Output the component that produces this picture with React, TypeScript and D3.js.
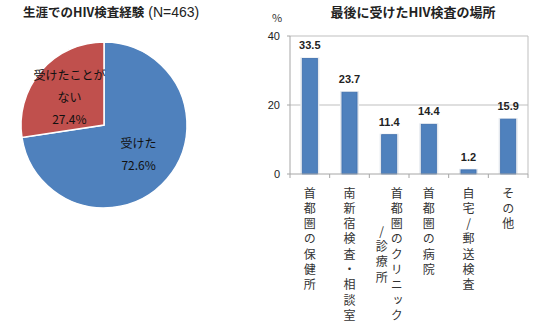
import React from 'react';
import * as d3 from 'd3';

const width = 550;
const height = 336;

const pieLabels = ['受けた', '受けたことが\nない'];
const pieValues = [72.6, 27.4];
const pieColors = ['#4F81BD', '#C0504D'];

const places = [
    '首都圏の保健所',
    '南新宿検査・相談室',
    '首都圏のクリニック\n/診療所',
    '首都圏の病院',
    '自宅/郵送検査',
    'その他',
];
const placeValues = [33.5, 23.7, 11.4, 14.4, 1.2, 15.9];
const yTicks = [0, 20, 40];

const jp = '"Noto Sans CJK JP", "Noto Sans", sans-serif';
const num = '"Liberation Sans", Arial, sans-serif';

const PieChart = () => {
    const cx = 104;
    const cy = 125;
    const r = 83;
    const arcs = d3.pie<number>().sort(null)(pieValues);
    const arc = d3.arc<d3.PieArcDatum<number>>().innerRadius(0).outerRadius(r);
    const labelArc = d3.arc<d3.PieArcDatum<number>>().innerRadius(r * 0.55).outerRadius(r * 0.55);
    return (
        <g>
            <text x={23} y={17} fill="#222">
                <tspan fontFamily={jp} fontSize={12.5} fontWeight={700}>生涯でのHIV検査経験</tspan>
                <tspan fontFamily={num} fontSize={14}> (N=463)</tspan>
            </text>
            <g transform={`translate(${cx},${cy})`}>
                {arcs.map((a, i) => (
                    <path key={i} d={arc(a) || ''} fill={pieColors[i]} stroke="#fff" strokeWidth={1.5} />
                ))}
                {arcs.map((a, i) => {
                    const [lx, ly] = labelArc.centroid(a);
                    const lines = [...pieLabels[i].split('\n'), d3.format('.1f')(pieValues[i]) + '%'];
                    const step = 22;
                    const y0 = ly - ((lines.length - 1) * step) / 2 + (lines.length > 2 ? 3 : 0);
                    return (
                        <text key={i} textAnchor="middle" fontFamily={jp} fontSize={12} fill="#111">
                            {lines.map((l, j) => (
                                <tspan key={j} x={lx} y={y0 + j * step} dy="0.35em">{l}</tspan>
                            ))}
                        </text>
                    );
                })}
            </g>
        </g>
    );
};

const BarChart = () => {
    const left = 290;
    const right = 528;
    const top = 36;
    const bottom = 174;
    const x = d3.scaleBand<string>().domain(places).range([left, right]).paddingInner(0.62).paddingOuter(0.31);
    const band = d3.scaleBand<string>().domain(places).range([left, right]);
    const y = d3.scaleLinear().domain([0, 40]).range([bottom, top]);
    const charStep = 15.3;
    const fs = 12;
    return (
        <g>
            <text x={413} y={17} textAnchor="middle" fontFamily={jp} fontSize={13} fontWeight={700} fill="#222">
                最後に受けたHIV検査の場所
            </text>
            <text x={277} y={22} textAnchor="middle" fontFamily={jp} fontSize={11} fill="#333">%</text>
            {yTicks.filter(t => t > 0).map(t => (
                <line key={t} x1={left} x2={right} y1={y(t)} y2={y(t)} stroke="#BFBFBF" />
            ))}
            <line x1={right} x2={right} y1={top} y2={bottom} stroke="#BFBFBF" />
            <line x1={left} x2={left} y1={top} y2={bottom} stroke="#A6A6A6" />
            {yTicks.map(t => (
                <g key={t}>
                    <line x1={left - 3} x2={left} y1={y(t)} y2={y(t)} stroke="#A6A6A6" />
                    <text x={280} y={y(t)} dy="0.35em" textAnchor="end" fontFamily={num} fontSize={11} fill="#222">{t}</text>
                </g>
            ))}
            {places.map((p, i) => (
                <rect key={p + 'sh'} x={(x(p) || 0) - 2} y={y(placeValues[i]) - 1}
                    width={x.bandwidth() + 4} height={bottom - y(placeValues[i]) + 1}
                    fill="#E4E8EE" />
            ))}
            {places.map((p, i) => (
                <rect key={p} x={x(p)} y={y(placeValues[i])} width={x.bandwidth()}
                    height={bottom - y(placeValues[i])} fill="#4F81BD" stroke="#3E6FAE" strokeWidth={0.8} />
            ))}
            <line x1={left} x2={right} y1={bottom} y2={bottom} stroke="#A6A6A6" />
            {d3.range(places.length + 1).map(i => (
                <line key={i} x1={left + i * band.bandwidth()} x2={left + i * band.bandwidth()}
                    y1={bottom} y2={bottom + 4} stroke="#A6A6A6" />
            ))}
            {places.map((p, i) => (
                <text key={p + 'v'} x={(x(p) || 0) + x.bandwidth() / 2} y={y(placeValues[i]) - 9}
                    textAnchor="middle" fontFamily={num} fontSize={11} fontWeight={700} fill="#222">
                    {d3.format('.1f')(placeValues[i])}
                </text>
            ))}
            {places.map(p => {
                const lines = p.split('\n');
                const cxp = (band(p) || 0) + band.bandwidth() / 2;
                const colGap = 15;
                const mainLen = lines[0].length;
                const x0 = cxp + ((lines.length - 1) * colGap) / 2;
                return (
                    <g key={p + 'l'}>
                        {lines.map((l, j) => {
                            const off = ((mainLen - l.length) * charStep) / 2;
                            return (
                                <text key={j} x={x0 - j * colGap} y={193 - fs / 2 + off}
                                    fontFamily={jp} fontSize={fs} fill="#333"
                                    style={{ writingMode: 'vertical-rl', textOrientation: 'upright', letterSpacing: `${charStep - fs}px` }}>
                                    {l}
                                </text>
                            );
                        })}
                    </g>
                );
            })}
        </g>
    );
};

const App = () => (
    <div style={{ position: 'absolute', left: 0, top: 0 }}>
        <svg width={width} height={height} style={{ display: 'block', background: '#fff' }}>
            <PieChart />
            <BarChart />
        </svg>
    </div>
);

export default App;
